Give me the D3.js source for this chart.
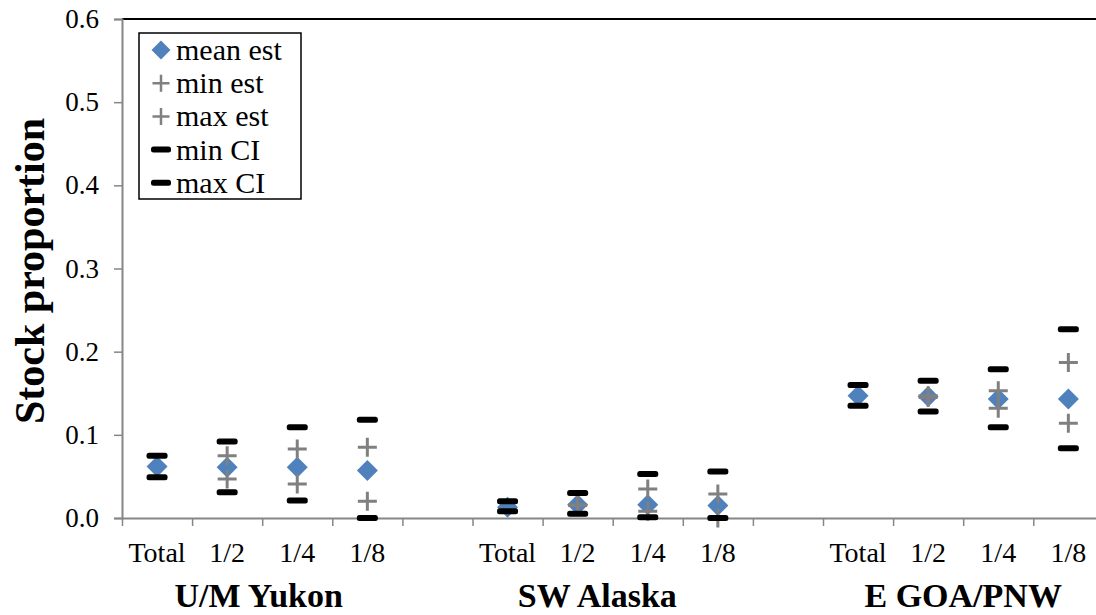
<!DOCTYPE html>
<html>
<head>
<meta charset="utf-8">
<script src="https://cdn.jsdelivr.net/npm/d3@7/dist/d3.min.js"></script>
<style>
  html, body { margin: 0; padding: 0; background: #fff; }
  svg { display: block; }
</style>
</head>
<body>
<svg id="chart" width="1096" height="615"></svg>
<script>
// ---- data ----
const groups = ["U/M Yukon", "SW Alaska", "E GOA/PNW"];
const subcats = ["Total", "1/2", "1/4", "1/8"];
const groupLabelOffset = [-0.05, -0.22, 0.0]; // in slot units (labels placed by hand in original)
const meanEst = [0.062, 0.061, 0.061, 0.057, 0.013, 0.016, 0.016, 0.015, 0.147, 0.146, 0.143, 0.143];
const minEst  = [null, 0.047, 0.041, 0.020, null, 0.015, 0.008, 0.000, null, 0.145, 0.132, 0.114];
const maxEst  = [null, 0.075, 0.083, 0.085, null, 0.016, 0.035, 0.029, null, 0.147, 0.153, 0.187];
const minCI   = [0.049, 0.031, 0.021, 0.000, 0.008, 0.005, 0.001, 0.000, 0.135, 0.128, 0.109, 0.084];
const maxCI   = [0.075, 0.092, 0.109, 0.118, 0.020, 0.030, 0.053, 0.056, 0.160, 0.165, 0.179, 0.227];
const yTicks  = [0, 0.1, 0.2, 0.3, 0.4, 0.5, 0.6];
const legendItems = ["mean est", "min est", "max est", "min CI", "max CI"];

// ---- layout ----
const FONT = "'Liberation Serif', 'DejaVu Serif', 'Times New Roman', Times, serif";
const svg = d3.select("#chart");
const mLeft = 122, mTop = 19, mBottom = 518;
const nSlots = groups.length * 5 - 1;
const slotW = 70.1;
const x = d3.scaleLinear().domain([0, nSlots]).range([mLeft, mLeft + nSlots * slotW]);
const y = d3.scaleLinear().domain([0, 0.6]).range([mBottom, mTop]);

const points = [];
groups.forEach((g, gi) => subcats.forEach((s, si) => {
  const k = gi * 4 + si;
  points.push({ slot: gi * 5 + si + 0.5, mean: meanEst[k], minE: minEst[k], maxE: maxEst[k], minC: minCI[k], maxC: maxCI[k], label: s });
}));

const gray = "#868686";

// top border
svg.append("line").attr("x1", mLeft).attr("x2", 1096).attr("y1", mTop).attr("y2", mTop)
  .attr("stroke", "#000").attr("stroke-width", 2);

// Y axis
const yAxis = svg.append("g").attr("transform", `translate(${mLeft},0)`)
  .call(d3.axisLeft(y).tickValues(yTicks).tickFormat(d3.format(".1f")).tickSize(8).tickPadding(15));
yAxis.attr("font-family", FONT);
yAxis.select(".domain").attr("stroke", gray).attr("stroke-width", 2);
yAxis.selectAll(".tick line").attr("stroke", gray).attr("stroke-width", 1.5);
yAxis.selectAll(".tick text").style("font-family", FONT).attr("font-size", 27).attr("fill", "#000");

// X axis (slot boundaries)
const xAxis = svg.append("g").attr("transform", `translate(0,${mBottom})`)
  .call(d3.axisBottom(x).tickValues(d3.range(nSlots + 1)).tickFormat("").tickSize(8).tickSizeOuter(0));
xAxis.select(".domain").attr("stroke", gray).attr("stroke-width", 2).attr("d", `M${mLeft},0.5H1096`);
xAxis.selectAll(".tick line").attr("stroke", gray).attr("stroke-width", 1.5);

// category labels
svg.append("g").selectAll("text").data(points).join("text")
  .attr("x", d => x(d.slot)).attr("y", 562)
  .attr("text-anchor", "middle").attr("font-size", 28).style("font-family", FONT)
  .text(d => d.label);

// group labels
svg.append("g").selectAll("text").data(groups).join("text")
  .attr("x", (g, i) => x(i * 5 + 2 + groupLabelOffset[i])).attr("y", 607)
  .attr("text-anchor", "middle").attr("font-size", 34).attr("font-weight", "bold").style("font-family", FONT)
  .text(g => g);

// y title
svg.append("text").attr("transform", `translate(44,271) rotate(-90)`)
  .attr("text-anchor", "middle").attr("font-size", 42).attr("font-weight", "bold").style("font-family", FONT)
  .text("Stock proportion");

// markers
const ciW = 21, ciH = 6, plusS = 9.5, diaR = 10.5;
function ciBar(sel) { return sel.attr("width", ciW).attr("height", ciH).attr("rx", 2.5).attr("fill", "#000"); }
function plusPath(cx, cy, s) { return `M${cx - s},${cy}H${cx + s}M${cx},${cy - s}V${cy + s}`; }
function diaPath(cx, cy, r) { return `M${cx},${cy - r}L${cx + r},${cy}L${cx},${cy + r}L${cx - r},${cy}Z`; }

const mk = svg.append("g");
mk.selectAll("path.mean").data(points).join("path").attr("class", "mean")
  .attr("d", d => diaPath(x(d.slot), y(d.mean), diaR)).attr("fill", "#4F81BD");
mk.selectAll("path.minE").data(points.filter(d => d.minE !== null)).join("path").attr("class", "minE")
  .attr("d", d => plusPath(x(d.slot), y(d.minE), plusS)).attr("stroke", "#808080").attr("stroke-width", 3).attr("fill", "none");
mk.selectAll("path.maxE").data(points.filter(d => d.maxE !== null)).join("path").attr("class", "maxE")
  .attr("d", d => plusPath(x(d.slot), y(d.maxE), plusS)).attr("stroke", "#808080").attr("stroke-width", 3).attr("fill", "none");
mk.selectAll("rect.minC").data(points).join("rect").attr("class", "minC")
  .attr("x", d => x(d.slot) - ciW / 2).attr("y", d => y(d.minC) - ciH / 2).call(ciBar);
mk.selectAll("rect.maxC").data(points).join("rect").attr("class", "maxC")
  .attr("x", d => x(d.slot) - ciW / 2).attr("y", d => y(d.maxC) - ciH / 2).call(ciBar);

// legend
const lg = svg.append("g");
lg.append("rect").attr("x", 139).attr("y", 33).attr("width", 162).attr("height", 166)
  .attr("fill", "#fff").attr("stroke", "#000").attr("stroke-width", 1.5);
legendItems.forEach((t, i) => {
  const cy = 50 + i * 33.2, cx = 161;
  if (i === 0) lg.append("path").attr("d", diaPath(cx, cy, 9.5)).attr("fill", "#4F81BD");
  else if (i < 3) lg.append("path").attr("d", plusPath(cx, cy, 8.5)).attr("stroke", "#808080").attr("stroke-width", 2.5);
  else lg.append("rect").attr("x", cx - 10).attr("y", cy - 3).call(ciBar).attr("width", 20);
  lg.append("text").attr("x", 176).attr("y", cy + 10).attr("font-size", 30).style("font-family", FONT).attr("fill", "#000").text(t);
});
</script>
</body>
</html>
